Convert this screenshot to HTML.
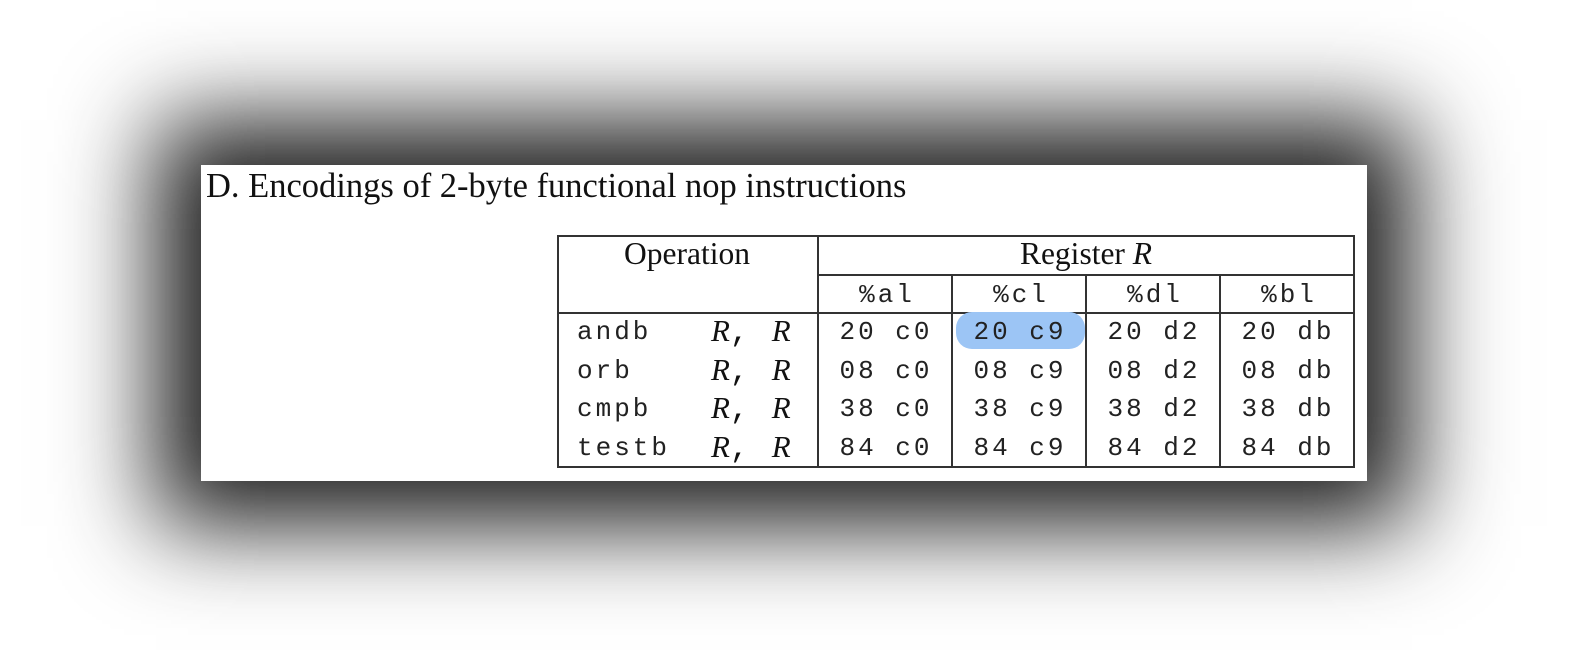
<!DOCTYPE html>
<html><head><meta charset="utf-8"><style>
html,body{margin:0;padding:0;background:#fff;width:1575px;height:650px;overflow:hidden;position:relative}
#panel{position:absolute;left:201px;top:165px;width:1166px;height:316px;background:#fff;box-shadow:0 0 90px 45px rgba(0,0,0,0.88)}
.t{position:absolute;white-space:nowrap;color:#111;line-height:1}
.serif{font-family:"Liberation Serif",serif}
.mono{font-family:"Liberation Mono",monospace;font-size:26px;letter-spacing:3px;color:#222}
.ln{position:absolute;background:#333}
.c{transform:translateX(-50%)}
.i{font-style:italic}
</style></head><body>
<div id="panel">
<div class="t serif" style="left:5px;top:4px;font-size:34.5px">D. Encodings of 2-byte functional nop instructions</div>
</div>
<div>
<div class="ln" style="left:557px;top:235px;width:798px;height:2px"></div>
<div class="ln" style="left:818px;top:274px;width:537px;height:2px"></div>
<div class="ln" style="left:557px;top:312px;width:798px;height:2px"></div>
<div class="ln" style="left:557px;top:466px;width:798px;height:2px"></div>
<div class="ln" style="left:557px;top:235px;width:2px;height:233px"></div>
<div class="ln" style="left:817px;top:235px;width:2px;height:233px"></div>
<div class="ln" style="left:951px;top:274px;width:2px;height:194px"></div>
<div class="ln" style="left:1085px;top:274px;width:2px;height:194px"></div>
<div class="ln" style="left:1219px;top:274px;width:2px;height:194px"></div>
<div class="ln" style="left:1353px;top:235px;width:2px;height:233px"></div>
<div style="position:absolute;left:956px;top:312px;width:129px;height:37px;border-radius:16px;background:#9cc5f5"></div>
<div class="t serif c" style="left:687px;top:238px;font-size:31.5px">Operation</div>
<div class="t serif c" style="left:1086px;top:238px;font-size:31.5px">Register <span class="i">R</span></div>
<div class="t mono c" style="left:887px;top:282px">%al</div>
<div class="t mono c" style="left:1021px;top:282px">%cl</div>
<div class="t mono c" style="left:1155px;top:282px">%dl</div>
<div class="t mono c" style="left:1289px;top:282px">%bl</div>
<div id="rows"></div>
</div>
<script>
const ops=["andb","orb","cmpb","testb"];
const opcodes=["20","08","38","84"];
const modrm=["c0","c9","d2","db"];
const rowTops=[319,358,396,435];
const colCenters=[886,1020,1154,1288];
const host=document.getElementById('rows');
ops.forEach((op,r)=>{
  const a=document.createElement('div');a.className='t mono';
  a.style.left='577px';a.style.top=rowTops[r]+'px';a.textContent=op;
  
  
  host.appendChild(a);
  const b=document.createElement('div');b.className='t serif i';
  b.style.left='711px';b.style.top=(rowTops[r]-4)+'px';b.style.fontSize='31px';
  b.innerHTML='R<span style="font-style:normal;font-family:Liberation Mono,monospace">,</span>&nbsp;&nbsp;&nbsp;R';
  
  
  host.appendChild(b);
  modrm.forEach((m,c)=>{
    const d=document.createElement('div');d.className='t mono c';
    d.style.left=colCenters[c]+'px';d.style.top=rowTops[r]+'px';
    d.textContent=opcodes[r]+' '+m;
    
    
    host.appendChild(d);
  });
});
</script>
</body></html>
